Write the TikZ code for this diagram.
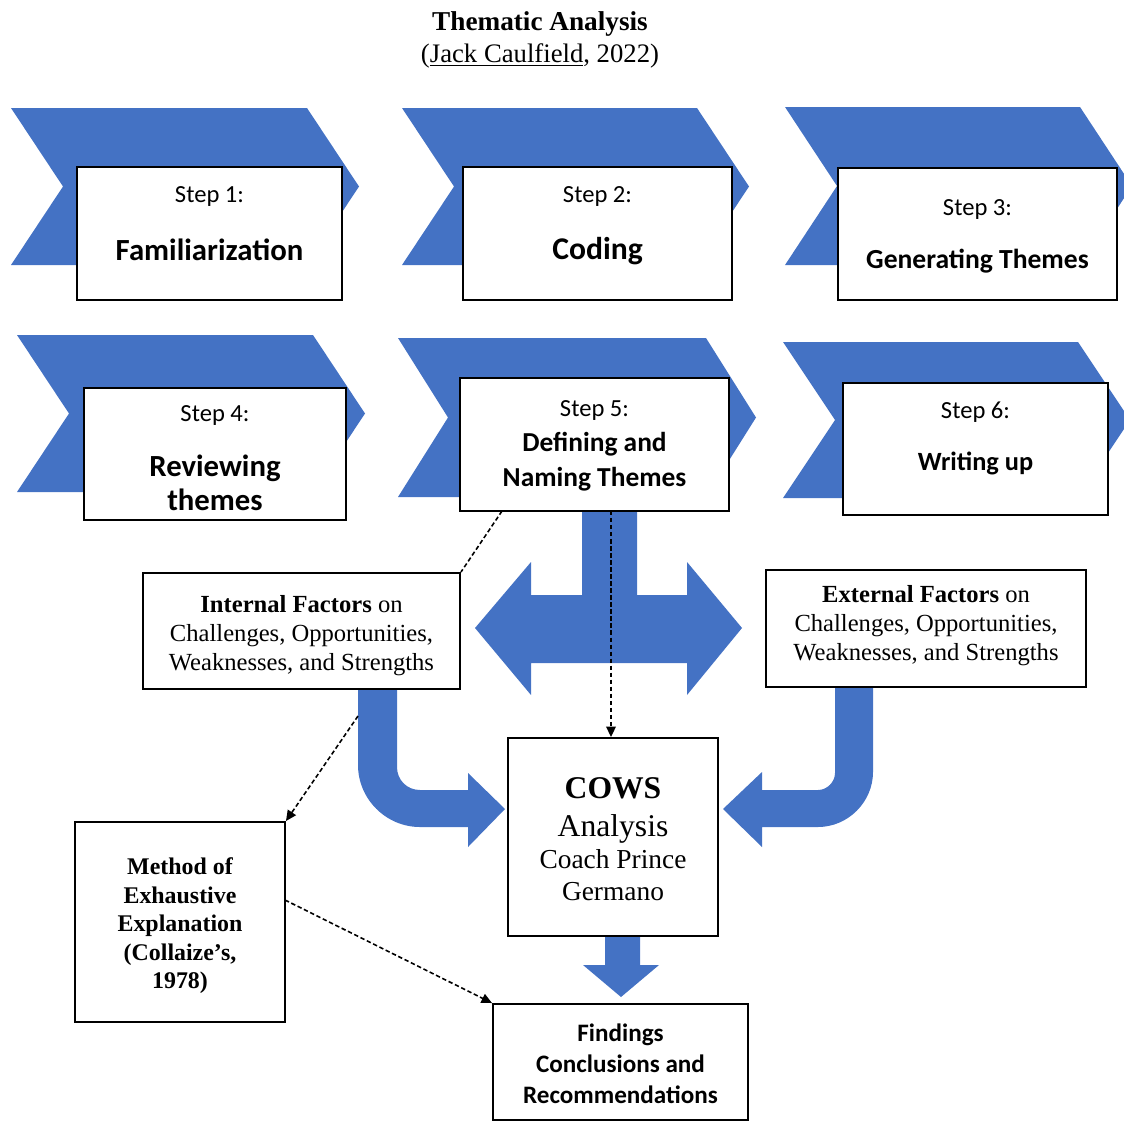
\documentclass[tikz,border=0pt]{standalone}
\usepackage{fontspec}
\setmainfont{Liberation Serif}
\newfontfamily\stepfont{Carlito}
\usepackage{tikz}
\usetikzlibrary{
    positioning,
    fit,
    calc,
    arrows.meta
  }
\definecolor{chevblue}{HTML}{4472C4}
\newcommand{\namefont}[2]{\stepfont\bfseries\fontsize{#1}{#2}\selectfont}
\tikzstyle{chev}=[fill=chevblue, draw=none]
\tikzstyle{stepbox}=[draw=black, line width=1.1pt, fill=white, inner sep=0pt]
\tikzstyle{steptop}=[font=\stepfont\fontsize{14}{16}\selectfont, inner sep=0pt]
\tikzstyle{stepname}=[inner sep=0pt, align=center]
\tikzstyle{serifbox}=[inner sep=0pt, align=center, font=\fontsize{14}{16.5}\selectfont]
\tikzstyle{dashline}=[line width=0.9pt, dash pattern=on 2.5pt off 1.5pt]
\tikzstyle{dasharrow}=[dashline, -{Triangle[length=6pt, width=5.5pt]}]

\begin{document}
\begin{tikzpicture}[x=0.02cm, y=-0.02cm]
  \useasboundingbox (0,0) rectangle (1124,1122);
  % title
  \node[font=\bfseries\fontsize{15.5}{18}\selectfont] (title) at (540,24) {Thematic Analysis};
  \node[font=\fontsize{15.2}{18}\selectfont] (source) at (540,56) {(\underline{Jack Caulfield}, 2022)};

  % chevrons behind the steps
  \foreach \x/\t/\b/\w/\d in {11/108/265/296/52, 402/108/265/295/52, 785/107/265/295/52,
      17/335/492/296/52, 398/338/497/308/50, 783/342/498/295/52}
    \fill[chev] (\x,\t) -- ++(\w,0) -- ++(\d,{(\b-\t)/2}) -- ++(-\d,{(\b-\t)/2})
      -- ++(-\w,0) -- ++(\d,{(\t-\b)/2}) -- cycle;

  % blue block arrows
  \fill[chev] (582,511) -- (582,595) -- (531,595) -- (531,562) -- (475,628) -- (531,695)
    -- (531,663) -- (687,663) -- (687,695) -- (742,628) -- (687,562) -- (687,595)
    -- (637,595) -- (637,511) -- cycle;
  \fill[chev] (358,689) -- (358,765) .. controls (358,799) and (386,827) .. (420,827)
    -- (468,827) -- (468,847) -- (505,809) -- (468,773) -- (468,790) -- (420,790)
    .. controls (407,790) and (397,780) .. (397,767) -- (397,689) -- cycle;
  \fill[chev] (873,687) -- (873,772) .. controls (873,802) and (848,827) .. (818,827)
    -- (762,827) -- (762,847) -- (723,809) -- (762,772) -- (762,790) -- (818,790)
    .. controls (827,790) and (835,782) .. (835,773) -- (835,687) -- cycle;
  \fill[chev] (605,936) -- (605,965) -- (583,965) -- (621,997) -- (659,965)
    -- (640,965) -- (640,936) -- cycle;

  % step boxes
  \node[stepbox, fit={(77,167) (342,300)}] (s1) {};
  \node[stepbox, fit={(463,167) (732,300)}] (s2) {};
  \node[stepbox, fit={(838,168) (1117,300)}] (s3) {};
  \node[stepbox, fit={(84,388) (346,520)}] (s4) {};
  \node[stepbox, fit={(460,378) (729,511)}] (s5) {};
  \node[stepbox, fit={(843,383) (1108,515)}] (s6) {};

  \node[steptop] (s1top) at (209.5,196) {Step 1:};
  \node[stepname, font=\namefont{17.5}{20}] (s1name) at (209.5,250) {Familiarization};
  \node[steptop] (s2top) at (597.5,196) {Step 2:};
  \node[stepname, font=\namefont{18}{20}] (s2name) at (597.5,251) {Coding};
  \node[steptop] (s3top) at (977.5,209) {Step 3:};
  \node[stepname, font=\namefont{15.7}{18}] (s3name) at (977.5,261) {Generating Themes};
  \node[steptop] (s4top) at (215,415) {Step 4:};
  \node[stepname, font=\namefont{17.5}{19.4}] (s4name) at (215,483) {Reviewing\\themes};
  \node[steptop] (s5top) at (594.5,410) {Step 5:};
  \node[stepname, font=\namefont{15.6}{20}] (s5name) at (594.5,462) {Defining and\\Naming Themes};
  \node[steptop] (s6top) at (975.5,412) {Step 6:};
  \node[stepname, font=\namefont{15}{18}] (s6name) at (975.5,463) {Writing up};

  % factor boxes
  \node[stepbox, fit={(143,573) (460,689)}] (intl) {};
  \node[serifbox] (intltxt) at (301.5,636) {{\bfseries Internal Factors} on\\Challenges, Opportunities,\\Weaknesses, and Strengths};
  \node[stepbox, fit={(766,570) (1086,687)}] (extl) {};
  \node[serifbox] (extltxt) at (926,626) {{\bfseries External Factors} on\\Challenges, Opportunities,\\Weaknesses, and Strengths};

  % analysis, method and findings
  \node[stepbox, fit={(508,738) (718,936)}] (cows) {};
  \node[serifbox, anchor=north, font=\fontsize{15.6}{18.2}\selectfont] (cowstxt) at (613,777)
    {{\fontsize{18}{18}\selectfont\bfseries COWS}\\[3.4pt]{\fontsize{18}{18}\selectfont Analysis}\\Coach Prince\\Germano};
  \node[stepbox, fit={(75,822) (285,1022)}] (meth) {};
  \node[serifbox, font=\bfseries\fontsize{13.6}{16.2}\selectfont] (methtxt) at (180,926)
    {Method of\\Exhaustive\\Explanation\\(Collaize’s,\\1978)};
  \node[stepbox, fit={(493,1004) (748,1120)}] (find) {};
  \node[stepname, font=\namefont{14.3}{17.6}] (findtxt) at (620.5,1064)
    {Findings\\Conclusions and\\Recommendations};

  % dashed links
  \coordinate (d1) at (502,511);
  \coordinate (d2) at (611,511);
  \coordinate (d3) at (358,716);
  \coordinate (d4) at (285,900);
  \draw[dashline] (d1) -- (intl.north east);
  \draw[dasharrow] (d2) -- (cows.north -| d2);
  \draw[dasharrow] (d3) -- (meth.north east);
  \draw[dasharrow] (d4) -- (find.north west);
\end{tikzpicture}
\end{document}
